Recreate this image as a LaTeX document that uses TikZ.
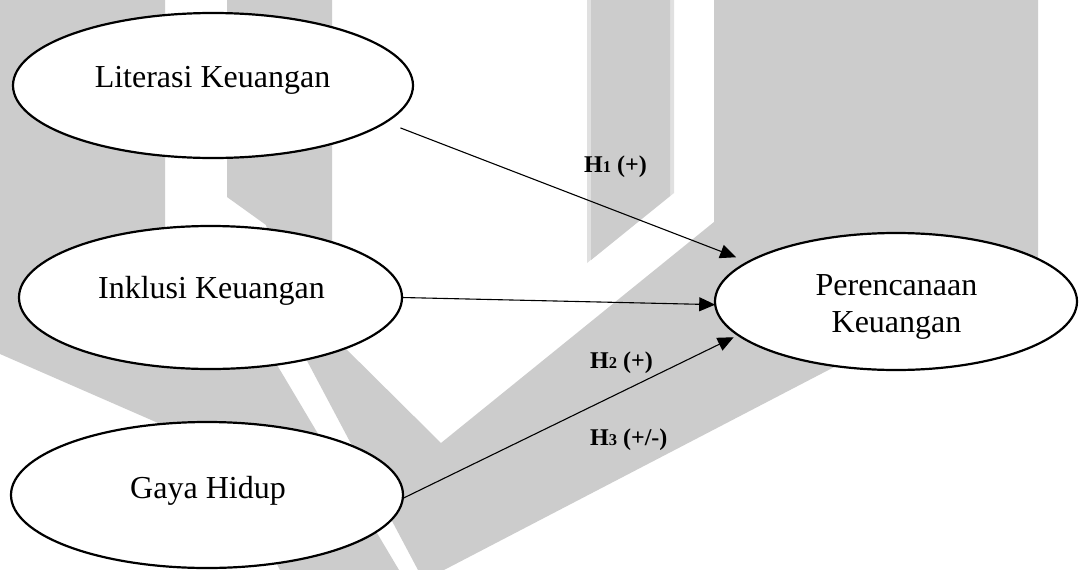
\documentclass[tikz,border=0pt]{standalone}
\usepackage{fontspec}
\setmainfont{Liberation Serif}
\usetikzlibrary{arrows.meta,shapes.geometric}
\definecolor{wmgray}{RGB}{204,204,204}
\definecolor{wmedge}{RGB}{224,224,224}
% small index digit of a hypothesis label
\newcommand\hnum[1]{{\fontsize{16.5}{18}\selectfont #1}}
\begin{document}
\begin{tikzpicture}[x=1pt,y=-1pt,
  wm/.style={fill=wmgray},
  var/.style={ellipse, draw=black, line width=2.2pt, fill=white, inner sep=0pt, outer sep=0pt},
  vtext/.style={font=\fontsize{32}{38}\selectfont, inner sep=0pt, anchor=base},
  hyp/.style={font=\fontsize{24}{28}\selectfont\bfseries, inner sep=0pt, anchor=base west},
  arr/.style={line width=1.1pt, -{Triangle[length=16pt,width=14pt]}}]

\useasboundingbox (0,0) rectangle (1085,570);
\fill[white] (0,0) rectangle (1085,570);

% background emblem
\fill[wm] (0,0) -- (165,0) -- (165,230) -- (262,340) -- (286,380) -- (399,570)
  -- (280,570) -- (220,450) -- (0,354) -- cycle;
\fill[wm] (227,0) -- (332,0) -- (332,335) -- (441,443) -- (714,222) -- (714,0)
  -- (1038,0) -- (1038,261) -- (444,570) -- (418,570) -- (296,340) -- (266,225)
  -- (227,197) -- cycle;
\fill[wmedge] (587,0) -- (674,0) -- (674,193) -- (587,263) -- cycle;
\fill[wm] (591,0) -- (670,0) -- (670,196) -- (591,260) -- cycle;

% variables
\node[var, minimum width=400pt, minimum height=145pt] (lit) at (213,85.5) {};
\node[var, minimum width=383pt, minimum height=143pt] (ink) at (210.5,297.5) {};
\node[var, minimum width=392pt, minimum height=146pt] (gay) at (207,495) {};
\node[var, minimum width=362pt, minimum height=137pt] (per) at (896,301.5) {};

\node[vtext] (litT) at (212.5,87) {Literasi Keuangan};
\node[vtext] (inkT) at (211.5,298) {Inklusi Keuangan};
\node[vtext] (gayT) at (208,498) {Gaya Hidup};
\node[vtext] (perT1) at (896.5,295) {Perencanaan};
\node[vtext] (perT2) at (896.5,332) {Keuangan};

% hypotheses
\draw[arr, shorten <=16pt, shorten >=13pt] (lit.-12.8) -- (per.165.1);
\draw[arr] (ink.0.5) -- (per.181);
\draw[arr, shorten >=5pt] (gay.-1) -- (per.192.6);

\node[hyp] (h1) at (584,172) {H\hnum{1} (+)};
\node[hyp] (h2) at (590,368) {H\hnum{2} (+)};
\node[hyp] (h3) at (590,445) {H\hnum{3} (+/-)};
\end{tikzpicture}
\end{document}
